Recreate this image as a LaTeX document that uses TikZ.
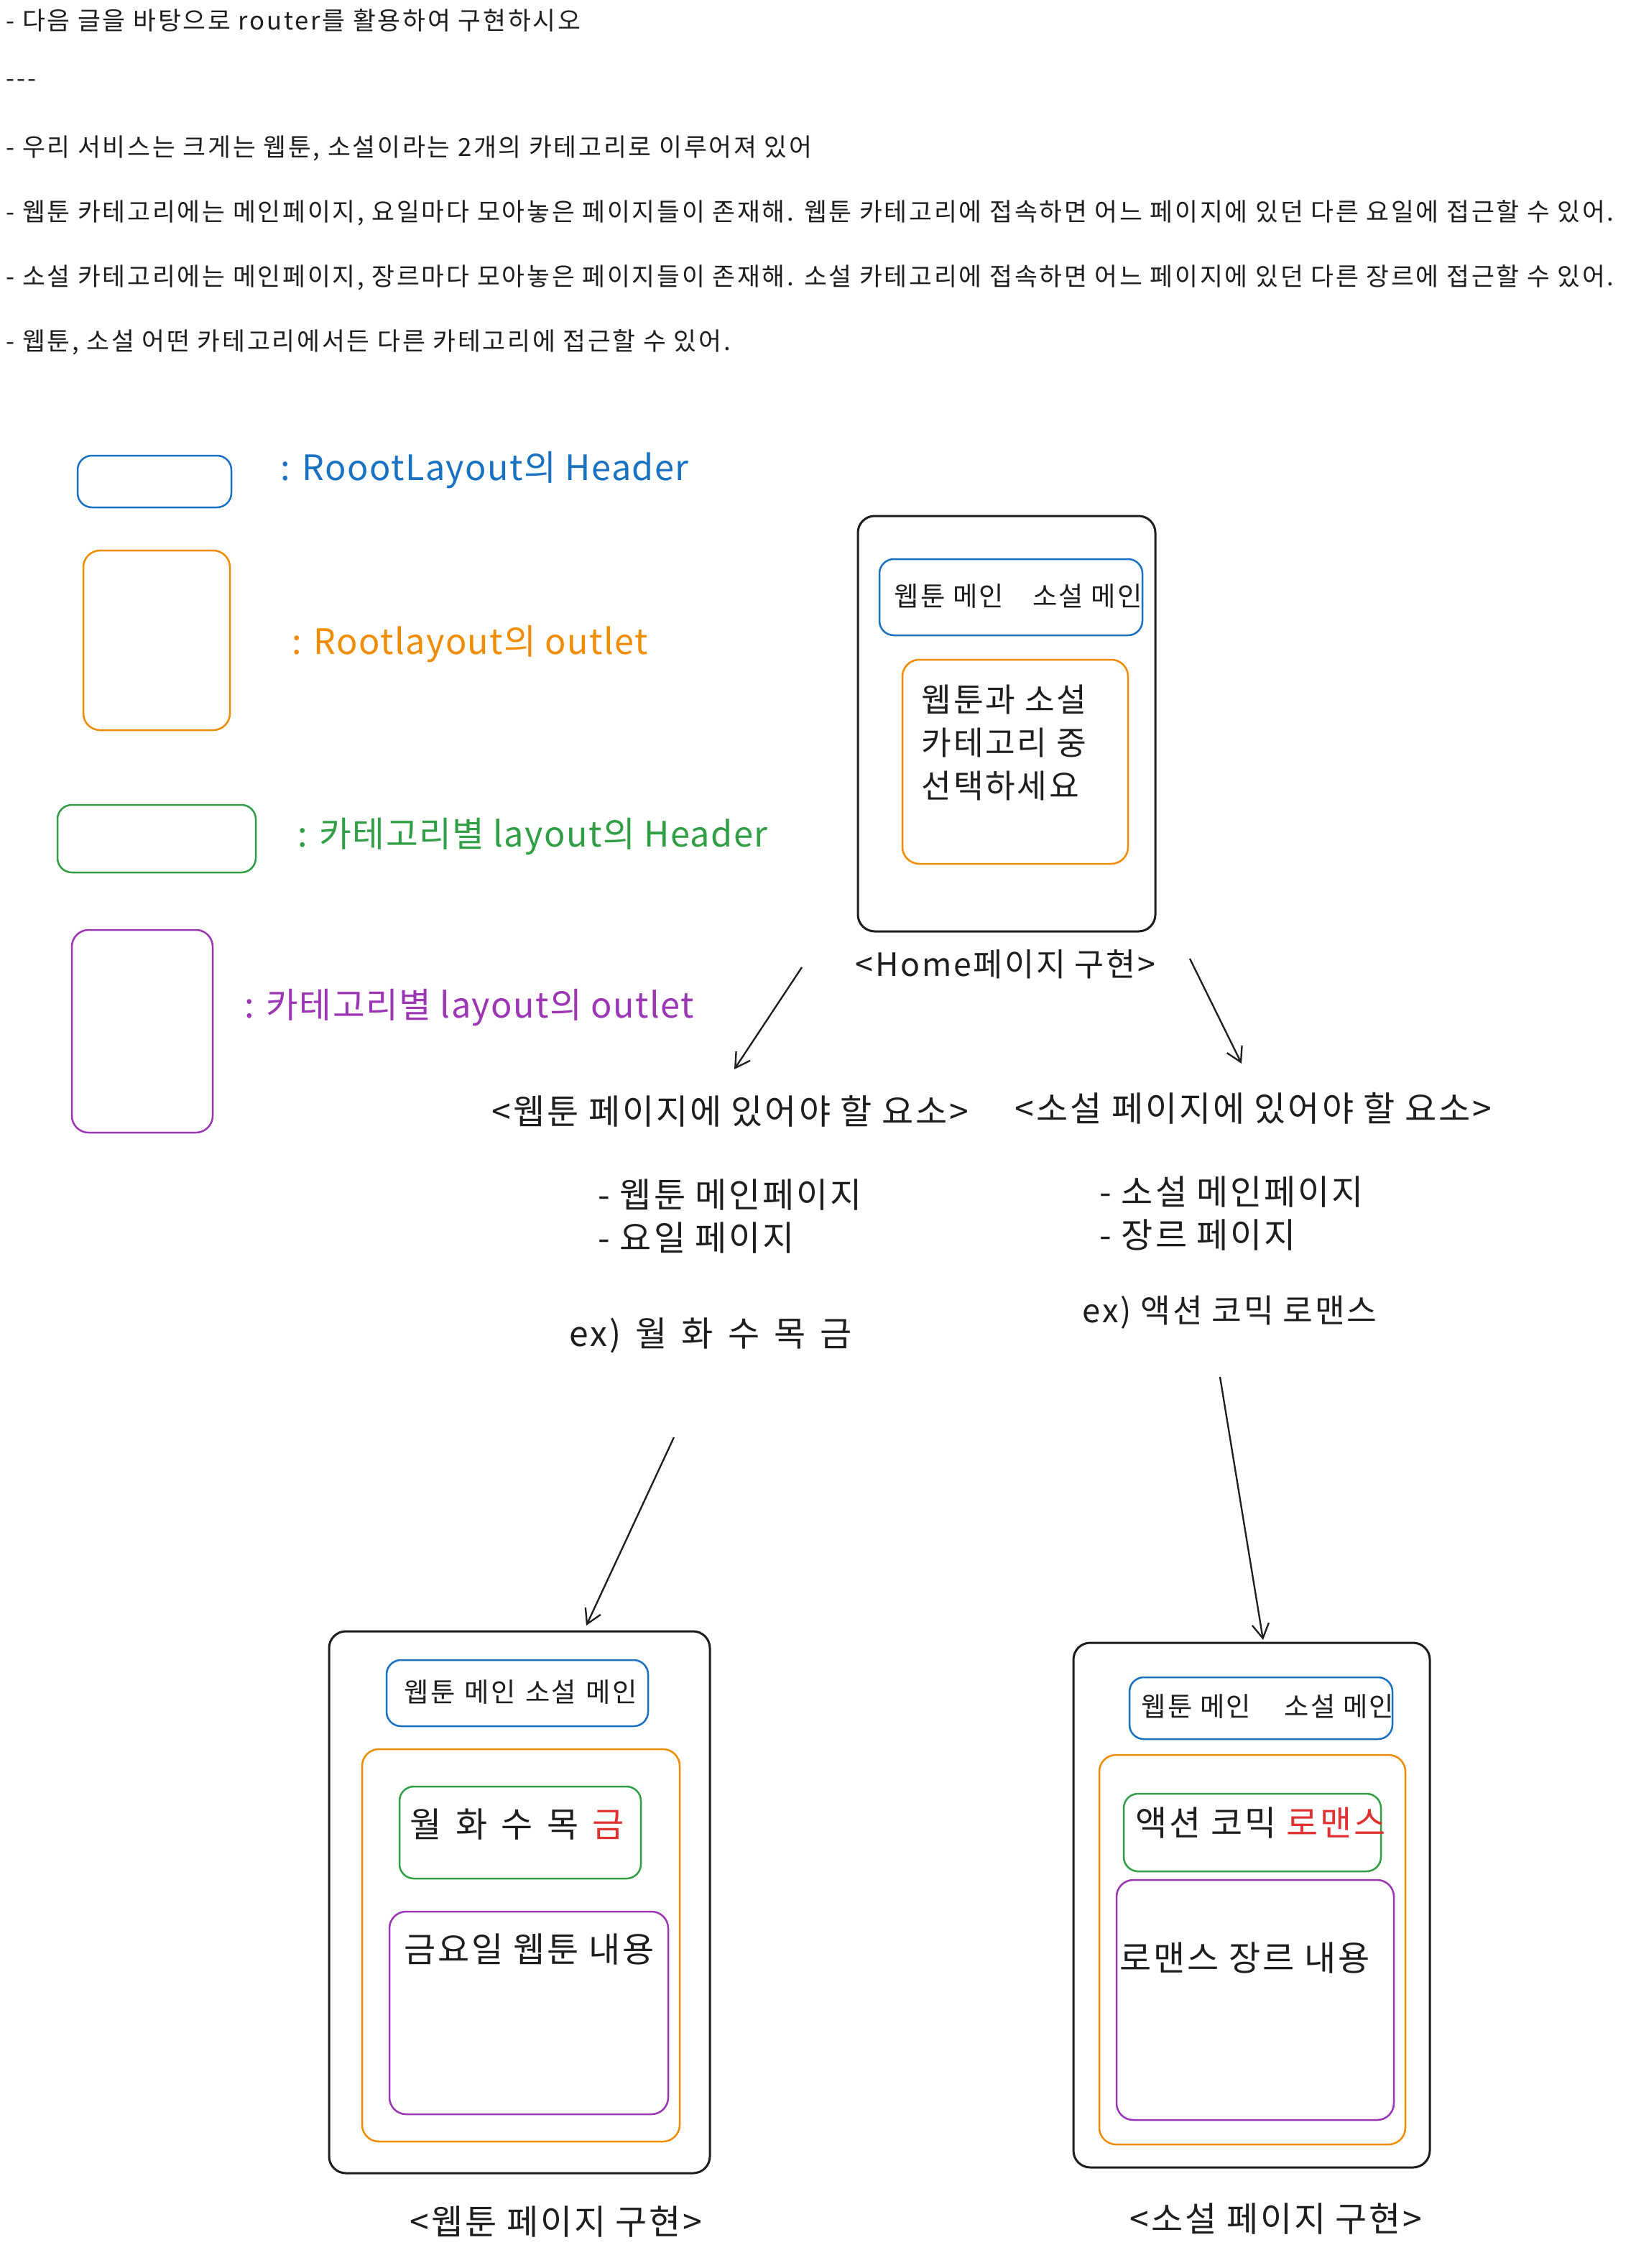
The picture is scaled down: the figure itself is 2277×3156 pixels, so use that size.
\documentclass[tikz,border=0pt]{standalone}
\usepackage{fontspec}
\setmainfont{Noto Sans CJK KR}[LetterSpace=6]
\usetikzlibrary{arrows.meta,fit}
\definecolor{ink}{HTML}{1E1E1E}
\definecolor{cblue}{HTML}{1971C2}
\definecolor{corange}{HTML}{F08C00}
\definecolor{cgreen}{HTML}{2F9E44}
\definecolor{cpurple}{HTML}{9C36B5}
\definecolor{cred}{HTML}{E03131}
\begin{document}
\begin{tikzpicture}[x=0.3pt,y=-0.3pt,
  frame/.style={draw=ink, line width=0.9pt, rounded corners=7pt, inner sep=0pt},
  rhdr/.style={draw=cblue, line width=0.75pt, rounded corners=6pt, inner sep=0pt},
  routl/.style={draw=corange, line width=0.75pt, rounded corners=7pt, inner sep=0pt},
  chdr/.style={draw=cgreen, line width=0.75pt, rounded corners=6pt, inner sep=0pt},
  coutl/.style={draw=cpurple, line width=0.75pt, rounded corners=7pt, inner sep=0pt},
  t/.style={inner sep=0pt, anchor=west, text=ink},
  fs/.style={font=\fontsize{10.4}{13}\selectfont\addfontfeature{LetterSpace=8}},
  fm/.style={font=\fontsize{13.6}{18}\selectfont},
  fl/.style={font=\fontsize{14.4}{18}\selectfont},
  flg/.style={font=\fontsize{14.6}{18}\selectfont\addfontfeature{LetterSpace=3}},
  fh/.style={font=\fontsize{11.2}{14}\selectfont},
  arr/.style={draw=ink, line width=0.7pt, -{Straight Barb[length=6pt,width=7pt]}}
]
\useasboundingbox (0,0) rectangle (2277,3156);
\fill[white] (0,0) rectangle (2277,3156);

% instructions
\node[t,fs] (l1) at (8,28) {- 다음 글을 바탕으로 router를 활용하여 구현하시오};
\node[t,fs] (l2) at (8,116) {-{}-{}-};
\node[t,fs] (l3) at (8,206) {- 우리 서비스는 크게는 웹툰, 소설이라는 2개의 카테고리로 이루어져 있어};
\node[t,fs] (l4) at (8,296) {- 웹툰 카테고리에는 메인페이지, 요일마다 모아놓은 페이지들이 존재해. 웹툰 카테고리에 접속하면 어느 페이지에 있던 다른 요일에 접근할 수 있어.};
\node[t,fs] (l5) at (8,386) {- 소설 카테고리에는 메인페이지, 장르마다 모아놓은 페이지들이 존재해. 소설 카테고리에 접속하면 어느 페이지에 있던 다른 장르에 접근할 수 있어.};
\node[t,fs] (l6) at (8,476) {- 웹툰, 소설 어떤 카테고리에서든 다른 카테고리에 접근할 수 있어.};

% legend
\node[rhdr, fit={(108,634) (322,706)}] (lg1) {};
\node[t,flg,text=cblue] (lg1t) at (390,654) {: RoootLayout의 Header};
\node[routl, fit={(116,766) (320,1016)}] (lg2) {};
\node[t,flg,text=corange] (lg2t) at (406,896) {: Rootlayout의 outlet};
\node[chdr, fit={(80,1120) (356,1214)}] (lg3) {};
\node[t,flg,text=cgreen] (lg3t) at (414,1164) {: 카테고리별 layout의 Header};
\node[coutl, fit={(100,1294) (296,1576)}] (lg4) {};
\node[t,flg,text=cpurple] (lg4t) at (340,1402) {: 카테고리별 layout의 outlet};

% home page
\node[frame, fit={(1194,718) (1608,1296)}] (home) {};
\node[rhdr, fit={(1224,778) (1590,884)}] (homehdr) {};
\node[t,fh] (homehdrt) at (1244,830) {웹툰 메인\hspace{12pt}소설 메인};
\node[routl, fit={(1256,918) (1570,1202)}] (homeout) {};
\node[inner sep=0pt, anchor=north west, text=ink, align=left, fm] (homeoutt) at (1282,952) {웹툰과 소설\\카테고리 중\\선택하세요};
\node[t,fm,font=\fontsize{13.4}{18}\selectfont] (homelbl) at (1190,1342) {<Home페이지 구현>};

% requirements
\node[t,fl] (wreq) at (684,1546) {<웹툰 페이지에 있어야 할 요소>};
\node[t,fl] (nreq) at (1412,1542) {<소설 페이지에 있어야 할 요소>};
\node[inner sep=0pt, anchor=north west, text=ink, align=left, fl] (wlist) at (832,1640) {- 웹툰 메인페이지\\- 요일 페이지};
\node[inner sep=0pt, anchor=north west, text=ink, align=left, fl] (nlist) at (1530,1636) {- 소설 메인페이지\\- 장르 페이지};
\node[t,fl] (wex) at (792,1858) {ex)\hspace{6pt}월\hspace{6pt}화\hspace{6pt}수\hspace{6pt}목\hspace{6pt}금};
\node[t,fm] (nex) at (1506,1826) {ex) 액션 코믹 로맨스};

% webtoon page
\node[frame, fit={(458,2270) (988,3024)}] (web) {};
\node[rhdr, fit={(538,2310) (902,2402)}] (webhdr) {};
\node[t,fh] (webhdrt) at (562,2354) {웹툰\hspace{4pt}메인\hspace{4pt}소설\hspace{4pt}메인};
\node[routl, fit={(504,2434) (946,2980)}] (webout) {};
\node[chdr, fit={(556,2486) (892,2614)}] (webcat) {};
\node[t,fl] (webcatt) at (570,2538) {월\hspace{5.8pt}화\hspace{5.8pt}수\hspace{5.8pt}목\hspace{5.8pt}\textcolor{cred}{금}};
\node[coutl, fit={(542,2660) (930,2942)}] (webcon) {};
\node[t,fl] (webcont) at (562,2712) {금요일 웹툰 내용};
\node[t,fl] (weblbl) at (570,3092) {<웹툰 페이지 구현>};

% novel page
\node[frame, fit={(1494,2286) (1990,3016)}] (nov) {};
\node[rhdr, fit={(1572,2334) (1938,2420)}] (novhdr) {};
\node[t,fh] (novhdrt) at (1588,2374) {웹툰 메인\hspace{14pt}소설 메인};
\node[routl, fit={(1530,2442) (1956,2984)}] (novout) {};
\node[chdr, fit={(1564,2496) (1922,2604)}] (novcat) {};
\node[t,fl] (novcatt) at (1580,2536) {액션 코믹 \textcolor{cred}{로맨스}};
\node[coutl, fit={(1554,2616) (1940,2950)}] (novcon) {};
\node[t,fl] (novcont) at (1558,2724) {로맨스 장르 내용};
\node[t,fl] (novlbl) at (1572,3088) {<소설 페이지 구현>};

% arrows
\coordinate (a1s) at (1116,1346); \coordinate (a1e) at (1022,1488);
\coordinate (a2s) at (1656,1334); \coordinate (a2e) at (1728,1480);
\coordinate (a3s) at (938,2000);  \coordinate (a3e) at (816,2262);
\coordinate (a4s) at (1698,1916); \coordinate (a4e) at (1758,2282);
\draw[arr] (a1s) -- (a1e);
\draw[arr] (a2s) -- (a2e);
\draw[arr] (a3s) -- (a3e);
\draw[arr] (a4s) -- (a4e);
\end{tikzpicture}
\end{document}
